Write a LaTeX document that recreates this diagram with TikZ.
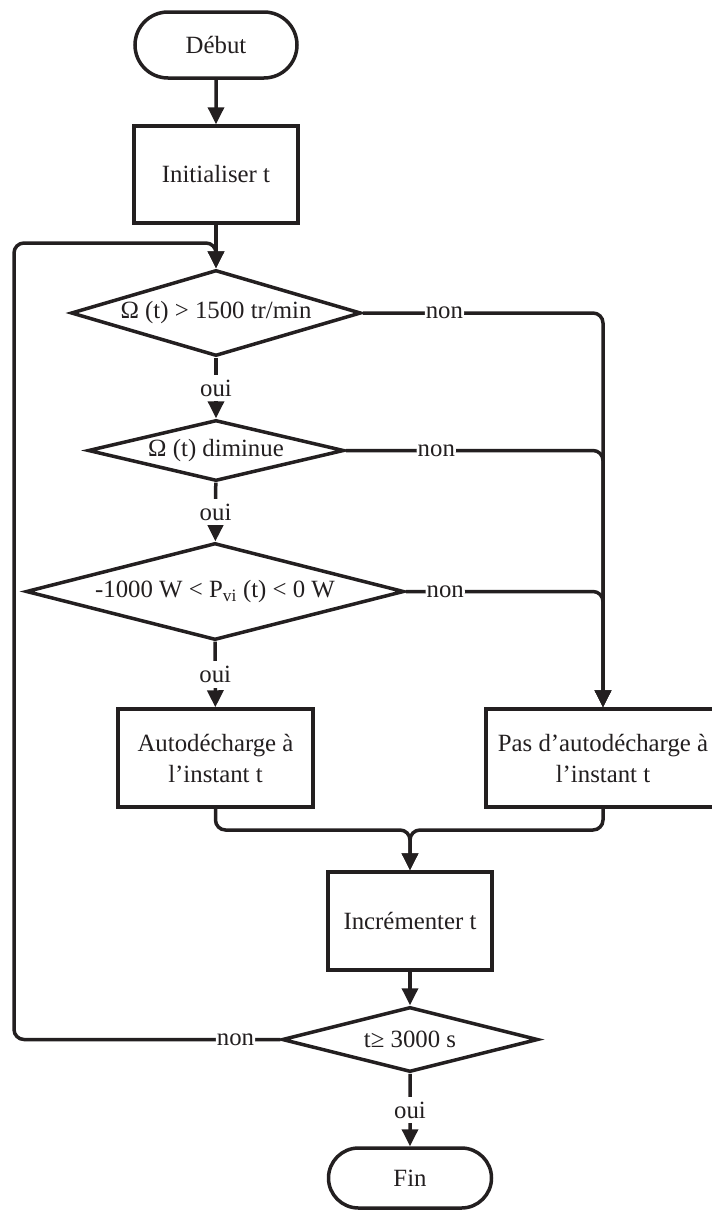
\documentclass[tikz,border=0pt]{standalone}
\usepackage{fontspec}
\setmainfont{Liberation Serif}
\usetikzlibrary{arrows.meta,shapes.geometric,shapes.misc}
\definecolor{inkcol}{RGB}{35,31,32}
\tikzset{
  termnode/.style={rounded rectangle,draw=inkcol,line width=3.5pt,fill=white,
                   inner sep=0pt,text=inkcol},
  procbox/.style={rectangle,draw=inkcol,line width=3.5pt,fill=white,align=center,
                  inner sep=0pt,text=inkcol},
  decision/.style={diamond,draw=inkcol,line width=3.5pt,fill=white,inner sep=0pt,
                   text=inkcol},
  flow/.style={-{Triangle[width=16pt,length=17pt]},draw=inkcol,line width=3.5pt},
  lbl/.style={fill=white,inner xsep=1pt,inner ysep=5pt,text=inkcol},
}

\begin{document}
\begin{tikzpicture}[x=1pt,y=-1pt,font=\fontsize{24.8}{31}\selectfont]
  \useasboundingbox (0,0) rectangle (712,1210);
  \node[termnode,minimum width=162pt,minimum height=66pt] (debut) at (216,45) {Début};
  \node[procbox,minimum width=164pt,minimum height=97pt] (init) at (216,174.5)
    {Initialiser t};
  \node[decision,aspect=3.37,minimum width=290pt,minimum height=86pt] (D1)
    at (216,313) {Ω (t) > 1500 tr/min};
  \node[decision,aspect=4.2,minimum width=256pt,minimum height=61pt] (D2)
    at (216,450.5) {Ω (t) diminue};
  \node[decision,aspect=3.9,minimum width=378pt,minimum height=97pt] (D3)
    at (215,591.5) {-1000 W < P\textsubscript{vi} (t) < 0 W};
  \node[procbox,minimum width=195pt,minimum height=98pt] (auto) at (215.5,758)
    {Autodécharge à\\l’instant t};
  \node[procbox,minimum width=234pt,minimum height=98pt] (pas) at (603,758)
    {Pas d’autodécharge à\\l’instant t};
  \node[procbox,minimum width=164pt,minimum height=98pt] (incr) at (410,921)
    {Incrémenter t};
  \node[decision,aspect=3.94,minimum width=256pt,minimum height=65pt] (D4)
    at (410,1039.5) {t≥ 3000 s};
  \node[termnode,minimum width=163pt,minimum height=60pt] (fin) at (410,1178) {Fin};
  \coordinate (loop) at (14,243);
  \coordinate (merge) at (410,830);

  \draw[flow] (debut) -- (init);
  \draw[flow] (init) -- (D1);
  \foreach \a/\b in {D1/D2,D2/D3,D3/auto,D4/fin}{
    \draw[flow] (\a) -- node[lbl]{oui} (\b);}
  \foreach \d/\p in {D1/.17,D2/.176,D3/.1}{
    \draw[flow,rounded corners=10pt] (\d.east) -| node[lbl,pos=\p]{non} (pas.north);}
  \draw[flow,rounded corners=10pt] (auto.south) |- (merge) -- (incr.north);
  \draw[flow,rounded corners=10pt] (pas.south) |- (merge) -- (incr.north);
  \draw[flow] (incr) -- (D4);
  \draw[flow,rounded corners=10pt] (D4.west) -| node[lbl,pos=.084]{non} (loop)
    -| (D1.north);
\end{tikzpicture}
\end{document}
